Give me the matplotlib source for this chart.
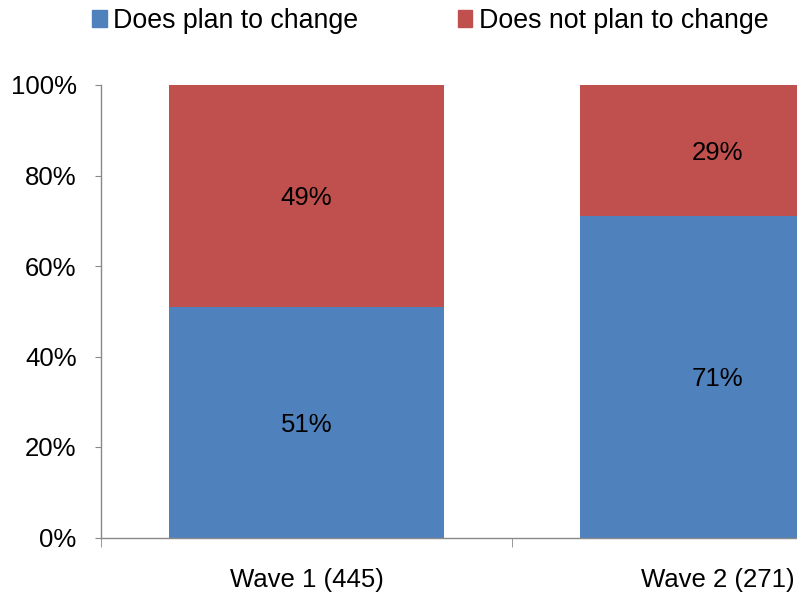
import matplotlib.pyplot as plt
from matplotlib.patches import Patch

plt.rcParams['font.family'] = ['Liberation Sans', 'DejaVu Sans']

# dados
waves = ['Wave 1 (445)', 'Wave 2 (271)']
plan_change = [51, 71]
not_plan_change = [49, 29]
series_names = ['Does plan to change', 'Does not plan to change']

blue = '#4F81BD'
red = '#C0504D'
gray = '#898989'
fs = 18.5

fig = plt.figure(figsize=(7.97, 5.99), dpi=100)
# o eixo continua além da borda direita, como no original
ax = fig.add_axes([101 / 797, 61.5 / 599, 822 / 797, 452.5 / 599])

x = range(len(waves))
ax.bar(x, plan_change, width=0.67, color=blue)
ax.bar(x, not_plan_change, width=0.67, bottom=plan_change, color=red)

# rótulos dos valores no meio de cada segmento
for i in x:
    ax.text(i, plan_change[i] / 2, f'{plan_change[i]}%', ha='center',
            va='center_baseline', fontsize=fs)
    ax.text(i, plan_change[i] + not_plan_change[i] / 2, f'{not_plan_change[i]}%',
            ha='center', va='center_baseline', fontsize=fs)

ax.set_xlim(-0.5, len(waves) - 0.5)
ax.set_ylim(0, 100)
ax.set_yticks(range(0, 101, 20))
ax.set_yticklabels([f'{v}%' for v in range(0, 101, 20)], fontsize=fs)
ax.set_xticks(list(x))
ax.set_xticklabels(waves, fontsize=fs)
ax.set_xticks([i - 0.5 for i in range(len(waves) + 1)], minor=True)

ax.tick_params(axis='x', which='major', length=0, pad=22)
ax.tick_params(axis='x', which='minor', length=6.5, color=gray, direction='out')
ax.tick_params(axis='y', length=4.5, color=gray, pad=13)

for s in ['top', 'right']:
    ax.spines[s].set_visible(False)
for s in ['left', 'bottom']:
    ax.spines[s].set_color(gray)
    ax.spines[s].set_linewidth(1)

handles = [Patch(color=blue), Patch(color=red)]
fig.legend(handles, series_names, loc='center left', bbox_to_anchor=(92 / 797, 1 - 21 / 599),
           ncol=2, frameon=False, fontsize=19.3, borderpad=0, borderaxespad=0,
           handlelength=0.55, handleheight=0.55, handletextpad=0.25, columnspacing=3.7)

fig.savefig('out.png', dpi=100)
plt.close()
